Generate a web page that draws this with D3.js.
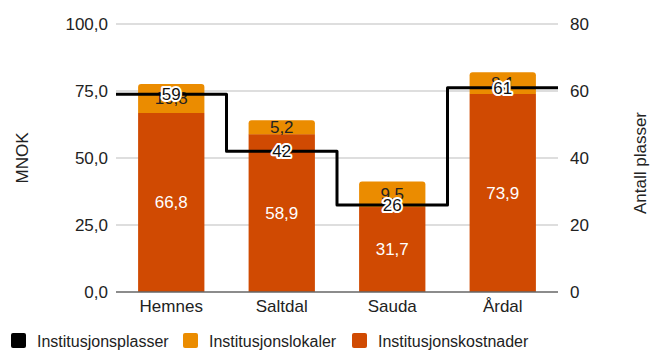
<!DOCTYPE html>
<html>
<head>
<meta charset="utf-8">
<script src="https://cdn.jsdelivr.net/npm/d3@7"></script>
<style>
  body { margin: 0; background: #fff; }
  text { font-family: "Liberation Sans", Arial, sans-serif; }
</style>
</head>
<body>
<svg id="chart" width="651" height="351"></svg>
<script>
// Kommuner og verdier
const categories = ["Hemnes", "Saltdal", "Sauda", "Årdal"];
const kostnader = [66.8, 58.9, 31.7, 73.9];   // Institusjonskostnader (MNOK)
const lokaler = [10.8, 5.2, 9.5, 8.1];        // Institusjonslokaler (MNOK)
const plasser = [59, 42, 26, 61];             // Institusjonsplasser (antall)
const leftTicks = [0, 25, 50, 75, 100];
const rightTicks = [0, 20, 40, 60, 80];

const colKost = "#D04A02", colLok = "#EB8C00", colLine = "#000000";
const fmt = v => d3.format(".1f")(v).replace(".", ",");

const svg = d3.select("#chart");
const m = { left: 116, right: 558, top: 24, bottom: 292 };

const x = d3.scaleBand().domain(categories).range([m.left, m.right]).paddingInner(0.4).paddingOuter(0.2);
const xBand = d3.scaleBand().domain(categories).range([m.left, m.right]);
const y = d3.scaleLinear().domain([0, 100]).range([m.bottom, m.top]);
const y2 = d3.scaleLinear().domain([0, 80]).range([m.bottom, m.top]);

// Rutenett
svg.append("g").selectAll("line").data(leftTicks.filter(d => d > 0)).join("line")
  .attr("x1", m.left).attr("x2", m.right)
  .attr("y1", d => y(d)).attr("y2", d => y(d))
  .attr("stroke", "#bdbdbd").attr("stroke-width", 1.2);

// Venstre akse
const leftAxis = svg.append("g").attr("transform", `translate(${m.left},0)`)
  .call(d3.axisLeft(y).tickValues(leftTicks).tickFormat(fmt).tickSize(0).tickPadding(8));
leftAxis.select(".domain").remove();
leftAxis.selectAll("text").attr("font-size", 17).attr("fill", "#222");

// Høyre akse
const rightAxis = svg.append("g").attr("transform", `translate(${m.right},0)`)
  .call(d3.axisRight(y2).tickValues(rightTicks).tickFormat(d3.format("d")).tickSize(0).tickPadding(12));
rightAxis.select(".domain").remove();
rightAxis.selectAll("text").attr("font-size", 17).attr("fill", "#222");

// Aksetitler
svg.append("text").attr("transform", `translate(28,158) rotate(-90)`)
  .attr("text-anchor", "middle").attr("font-size", 17).attr("fill", "#222").text("MNOK");
svg.append("text").attr("transform", `translate(646,163) rotate(-90)`)
  .attr("text-anchor", "middle").attr("font-size", 17).attr("fill", "#222").text("Antall plasser");

// Stablede søyler
const r = 3;
const bars = svg.append("g");
categories.forEach((c, i) => {
  const x0 = x(c), w = x.bandwidth();
  const yb = y(0), ym = y(kostnader[i]), yt = y(kostnader[i] + lokaler[i]);
  bars.append("rect").attr("x", x0).attr("y", ym).attr("width", w).attr("height", yb - ym).attr("fill", colKost);
  const p = d3.path();
  p.moveTo(x0, ym); p.lineTo(x0, yt + r); p.quadraticCurveTo(x0, yt, x0 + r, yt);
  p.lineTo(x0 + w - r, yt); p.quadraticCurveTo(x0 + w, yt, x0 + w, yt + r);
  p.lineTo(x0 + w, ym); p.closePath();
  bars.append("path").attr("d", p.toString()).attr("fill", colLok);
  // Verdietiketter
  bars.append("text").attr("x", x0 + w / 2).attr("y", (yb + ym) / 2).attr("dy", "0.35em")
    .attr("text-anchor", "middle").attr("font-size", 17).attr("fill", "#fff").text(fmt(kostnader[i]));
  bars.append("text").attr("x", x0 + w / 2).attr("y", (ym + yt) / 2).attr("dy", "0.35em")
    .attr("text-anchor", "middle").attr("font-size", 17).attr("fill", "#222").text(fmt(lokaler[i]));
});

// Nullinje
svg.append("line").attr("x1", m.left).attr("x2", m.right).attr("y1", y(0)).attr("y2", y(0))
  .attr("stroke", "#666").attr("stroke-width", 1.5);

// Kategorietiketter
svg.append("g").selectAll("text").data(categories).join("text")
  .attr("x", d => x(d) + x.bandwidth() / 2).attr("y", 312)
  .attr("text-anchor", "middle").attr("font-size", 17).attr("fill", "#222").text(d => d);

// Trinnlinje for institusjonsplasser
const centers = categories.map(c => xBand(c) + xBand.bandwidth() / 2);
const pts = [[m.left, plasser[0]]]
  .concat(categories.map((c, i) => [centers[i], plasser[i]]))
  .concat([[m.right, plasser[plasser.length - 1]]]);
svg.append("path").datum(pts)
  .attr("d", d3.line().x(d => d[0]).y(d => y2(d[1])).curve(d3.curveStep))
  .attr("fill", "none").attr("stroke", colLine).attr("stroke-width", 3).attr("stroke-linejoin", "round");

svg.append("g").selectAll("text").data(plasser).join("text")
  .attr("x", (d, i) => centers[i]).attr("y", d => y2(d)).attr("dy", "0.35em")
  .attr("text-anchor", "middle").attr("font-size", 17).attr("fill", "#111")
  .attr("stroke", "#fff").attr("stroke-width", 4).attr("stroke-linejoin", "round")
  .attr("paint-order", "stroke").text(d => d);

// Forklaring
const legend = [
  { label: "Institusjonsplasser", color: colLine, x: 11 },
  { label: "Institusjonslokaler", color: colLok, x: 183 },
  { label: "Institusjonskostnader", color: colKost, x: 352 }
];
const lg = svg.append("g");
legend.forEach(l => {
  lg.append("rect").attr("x", l.x).attr("y", 333).attr("width", 15).attr("height", 15).attr("rx", 2).attr("fill", l.color);
  lg.append("text").attr("x", l.x + 26).attr("y", 341).attr("dy", "0.35em")
    .attr("font-size", 16).attr("fill", "#222").text(l.label);
});
</script>
</body>
</html>
